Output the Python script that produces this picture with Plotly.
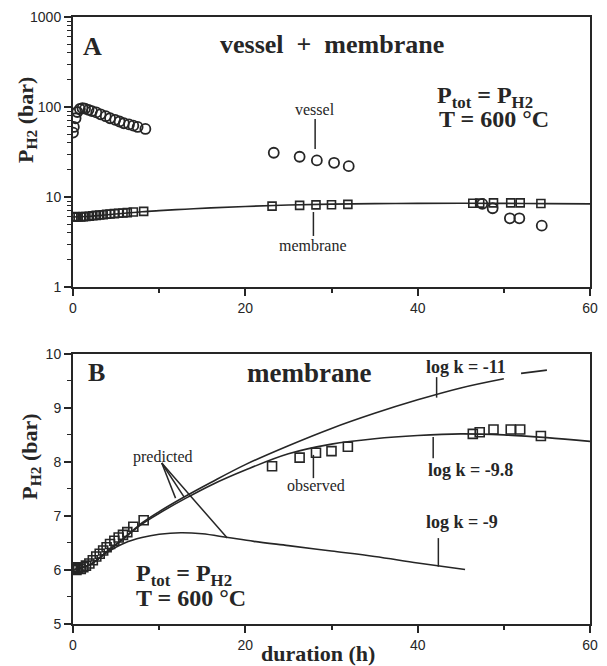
import plotly.graph_objects as go

# ---------------- data ----------------
# Panel A : vessel (circles)
vessel_t = [0.0, 0.1, 0.3, 0.5, 0.8, 1.1, 1.4, 1.8, 2.2, 2.7, 3.2, 3.8, 4.3, 4.9, 5.4, 5.9, 6.5, 7.0, 7.5, 8.4,
            23.3, 26.3, 28.3, 30.3, 32.0,
            47.5, 48.7, 50.7, 51.8, 54.4]
vessel_p = [52, 60, 75, 88, 95, 97, 96, 93, 90, 87, 83, 79, 75, 72, 69, 66, 64, 62, 60, 57,
            31, 28, 25.5, 24, 22,
            8.4, 7.5, 5.8, 5.8, 4.8]

# Membrane (squares) - both panels
memb_t = [0.0, 0.2, 0.4, 0.6, 0.9, 1.2, 1.5, 1.9, 2.3, 2.7, 3.1, 3.5, 3.9, 4.3, 4.8, 5.3, 5.8, 6.3, 7.0, 8.2,
          23.1, 26.3, 28.2, 30.0, 31.9,
          46.4, 47.2, 48.8, 50.8, 51.9, 54.3]
memb_p = [6.02, 6.05, 6.00, 6.03, 6.02, 6.05, 6.08, 6.12, 6.18, 6.25, 6.30, 6.36, 6.42, 6.48, 6.54, 6.60, 6.65, 6.70, 6.80, 6.92,
          7.92, 8.08, 8.17, 8.20, 8.28,
          8.52, 8.55, 8.60, 8.60, 8.60, 8.48]

# Predicted curves
k11_t = [0, 2, 4, 6, 8, 10, 13, 16, 20, 25, 30, 35, 40, 45, 50, None, 52, 55]
k11_p = [6.0, 6.1, 6.35, 6.6, 6.87, 7.08, 7.36, 7.62, 7.95, 8.3, 8.62, 8.9, 9.15, 9.37, 9.54, None, 9.64, 9.7]

k98_t = [0, 2, 4, 6, 8, 10, 13, 16, 20, 25, 30, 35, 40, 45, 50, 55, 60]
k98_p = [6.0, 6.1, 6.35, 6.6, 6.85, 7.05, 7.32, 7.57, 7.85, 8.15, 8.33, 8.43, 8.49, 8.52, 8.5, 8.45, 8.38]

k9_t = [0, 2, 4, 6, 8, 10, 12.5, 15, 18, 21, 25, 30, 35, 40, 45.5]
k9_p = [6.0, 6.1, 6.33, 6.5, 6.6, 6.66, 6.69, 6.67, 6.6, 6.53, 6.45, 6.35, 6.25, 6.13, 6.01]

# tick labels
x_ticks = [0, 20, 40, 60]
x_minor = [10, 30, 50]
ya_ticks = [1, 10, 100, 1000]
ya_minor = [m * d for d in (1, 10, 100) for m in range(2, 10)]
yb_ticks = [5, 6, 7, 8, 9, 10]
yb_minor = [5.5, 6.5, 7.5, 8.5, 9.5]

INK = "#262626"
SERIF = "Liberation Serif"
SANS = "Liberation Sans"

fig = go.Figure()

# ---- Panel A ----
fig.add_trace(go.Scatter(x=k98_t, y=k98_p, mode="lines", line=dict(color=INK, width=1.6, shape="spline"),
                         xaxis="x", yaxis="y", showlegend=False))
fig.add_trace(go.Scatter(x=memb_t, y=memb_p, mode="markers",
                         marker=dict(symbol="square-open", size=8, color=INK, line=dict(width=1.6)),
                         xaxis="x", yaxis="y", showlegend=False))
fig.add_trace(go.Scatter(x=vessel_t, y=vessel_p, mode="markers",
                         marker=dict(symbol="circle-open", size=10, color=INK, line=dict(width=1.8)),
                         xaxis="x", yaxis="y", showlegend=False))

# ---- Panel B ----
for tt, pp in ((k11_t, k11_p), (k98_t, k98_p), (k9_t, k9_p)):
    fig.add_trace(go.Scatter(x=tt, y=pp, mode="lines", connectgaps=False,
                             line=dict(color=INK, width=1.6, shape="spline"),
                             xaxis="x2", yaxis="y2", showlegend=False))
fig.add_trace(go.Scatter(x=memb_t, y=memb_p, mode="markers",
                         marker=dict(symbol="square-open", size=9, color=INK, line=dict(width=1.6)),
                         xaxis="x2", yaxis="y2", showlegend=False))

axis_common = dict(showline=True, linecolor=INK, linewidth=2, mirror=True, ticks="outside",
                   ticklen=7, tickwidth=1.5, tickcolor=INK, showgrid=False, zeroline=False,
                   ticklabeloverflow="allow",
                   tickfont=dict(family=SANS, size=14, color=INK))

fig.update_layout(
    width=607, height=666,
    margin=dict(l=73, r=9, t=17, b=42),
    paper_bgcolor="white", plot_bgcolor="white",
    xaxis=dict(domain=[0, 1], range=[0, 60], anchor="y", tickvals=x_ticks,
               minor=dict(tickvals=x_minor, ticks="outside", ticklen=4, tickcolor=INK, tickwidth=1.5),
               **axis_common),
    yaxis=dict(domain=[0.5552, 1], type="log", range=[0, 3], anchor="x", tickvals=ya_ticks,
               ticktext=[str(v) for v in ya_ticks],
               minor=dict(tickvals=ya_minor, ticks="outside", ticklen=4, tickcolor=INK, tickwidth=1.2),
               **axis_common),
    xaxis2=dict(domain=[0, 1], range=[0, 60], anchor="y2", tickvals=x_ticks,
                minor=dict(tickvals=x_minor, ticks="outside", ticklen=4, tickcolor=INK, tickwidth=1.5),
                **axis_common),
    yaxis2=dict(domain=[0, 0.445], range=[5, 10], anchor="x2", tickvals=yb_ticks,
                minor=dict(tickvals=yb_minor, ticks="outside", ticklen=4, tickcolor=INK, tickwidth=1.2),
                **axis_common),
)

def txt(x, y, s, xr, yr, size, bold=True, xanchor="center"):
    fig.add_annotation(x=x, y=y, xref=xr, yref=yr, text=(f"<b>{s}</b>" if bold else s),
                       showarrow=False, xanchor=xanchor, yanchor="middle",
                       font=dict(family=SERIF, size=size, color=INK))

def seg(x0, y0, x1, y1, xr, yr):
    fig.add_shape(type="line", x0=x0, y0=y0, x1=x1, y1=y1, xref=xr, yref=yr,
                  line=dict(color=INK, width=1.5))

# Panel A labels (y in log10 units)
txt(2.3, 2.667, "A", "x", "y", 26)
txt(30.1, 2.69, "vessel&nbsp; + &nbsp;membrane", "x", "y", 26)
txt(42.0, 2.11, "P<sub>tot</sub> = P<sub>H2</sub>", "x", "y", 24, xanchor="left")
txt(42.2, 1.867, "T = 600 °C", "x", "y", 24, xanchor="left")
txt(28.1, 1.97, "vessel", "x", "y", 16, bold=False)
fig.add_shape(type="line", x0=28.1, x1=28.1, y0=10 ** 1.867, y1=10 ** 1.533, xref="x", yref="y",
              line=dict(color=INK, width=1.5))
txt(27.9, 0.456, "membrane", "x", "y", 16, bold=False)
fig.add_shape(type="line", x0=27.9, x1=27.9, y0=10 ** 0.833, y1=10 ** 0.567, xref="x", yref="y",
              line=dict(color=INK, width=1.5))

# Panel B labels
txt(2.74, 9.65, "B", "x2", "y2", 26)
txt(27.4, 9.65, "membrane", "x2", "y2", 27)
txt(7.1, 5.91, "P<sub>tot</sub> = P<sub>H2</sub>", "x2", "y2", 24, xanchor="left")
txt(7.1, 5.48, "T = 600 °C", "x2", "y2", 24, xanchor="left")
txt(10.4, 8.09, "predicted", "x2", "y2", 16, bold=False)
seg(10.3, 7.98, 11.9, 7.33, "x2", "y2")
seg(10.3, 7.98, 12.9, 7.35, "x2", "y2")
seg(10.3, 7.98, 17.9, 6.59, "x2", "y2")
txt(28.2, 7.56, "observed", "x2", "y2", 16, bold=False)
seg(27.9, 8.13, 27.9, 7.70, "x2", "y2")
txt(45.6, 9.76, "log k = -11", "x2", "y2", 18)
seg(42.2, 9.57, 42.2, 9.19, "x2", "y2")
txt(46.1, 7.85, "log k = -9.8", "x2", "y2", 18)
seg(41.8, 8.46, 41.8, 8.07, "x2", "y2")
txt(45.1, 6.89, "log k = -9", "x2", "y2", 18)
seg(42.4, 6.59, 42.4, 6.06, "x2", "y2")

# axis titles
fig.add_annotation(x=-0.0895, y=0.83, xref="paper", yref="paper", text="<b>P<sub>H2</sub> (bar)</b>",
                   textangle=-90, showarrow=False, xanchor="center", yanchor="middle",
                   font=dict(family=SERIF, size=22, color=INK))
fig.add_annotation(x=-0.082, y=0.275, xref="paper", yref="paper", text="<b>P<sub>H2</sub> (bar)</b>",
                   textangle=-90, showarrow=False, xanchor="center", yanchor="middle",
                   font=dict(family=SERIF, size=22, color=INK))
fig.add_annotation(x=0.474, y=-0.049, xref="paper", yref="paper", text="<b>duration (h)</b>",
                   showarrow=False, xanchor="center", yanchor="middle",
                   font=dict(family=SERIF, size=22, color=INK))

fig.write_html("out.html", config={"displayModeBar": False},
               post_script="document.body.style.margin='0';document.body.style.overflow='hidden';")
